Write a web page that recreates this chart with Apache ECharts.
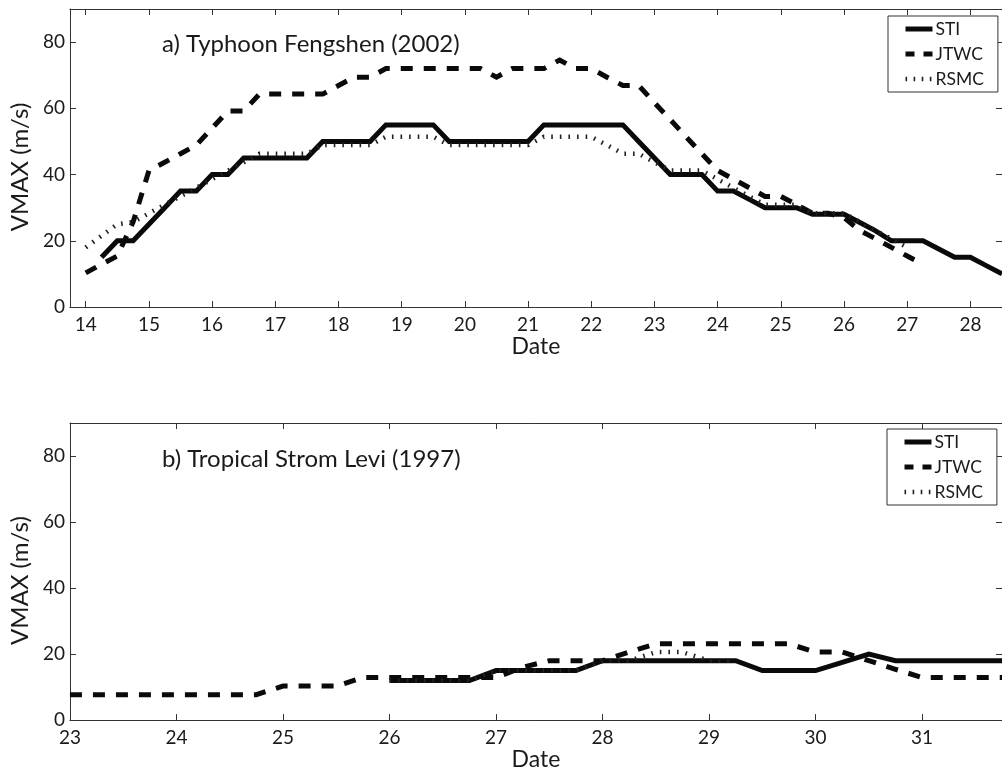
<!DOCTYPE html>
<html>
<head>
<meta charset="utf-8">
<script src="https://cdn.jsdelivr.net/npm/echarts@6/dist/echarts.min.js"></script>
<style>
html,body{margin:0;padding:0;background:#fff;}
#chart{width:1002px;height:772px;}
</style>
</head>
<body>
<div id="chart"></div>
<script>
// ---------- Panel a) Typhoon Fengshen (2002) ----------
const titleA = 'a) Typhoon Fengshen (2002)';
const xTicksA = [14,15,16,17,18,19,20,21,22,23,24,25,26,27,28];
const stiA_t = [14.25,14.5,14.75,15,15.25,15.5,15.75,16,16.25,16.5,16.75,17,17.25,17.5,17.75,18,18.25,18.5,18.75,19,19.25,19.5,19.75,20,20.25,20.5,20.75,21,21.25,21.5,21.75,22,22.25,22.5,22.75,23,23.25,23.5,23.75,24,24.25,24.5,24.75,25,25.25,25.5,25.75,26,26.25,26.5,26.75,27,27.25,27.5,27.75,28,28.25,28.5];
const stiA_v = [15,20,20,25,30,35,35,40,40,45,45,45,45,45,50,50,50,50,55,55,55,55,50,50,50,50,50,50,55,55,55,55,55,55,50,45,40,40,40,35,35,32.5,30,30,30,28,28,28,25.5,23,20,20,20,17.5,15,15,12.5,10];
const jtwcA_t = [14,14.25,14.5,14.75,15,15.25,15.5,15.75,16,16.25,16.5,16.75,17,17.25,17.5,17.75,18,18.25,18.5,18.75,19,19.25,19.5,19.75,20,20.25,20.5,20.75,21,21.25,21.5,21.75,22,22.25,22.5,22.75,23,23.25,23.5,23.75,24,24.25,24.5,24.75,25,25.25,25.5,25.75,26,26.25,26.5,26.75,27,27.25];
const jtwcA_v = [10.3,12.9,15.4,25.7,41.2,43.7,46.3,48.9,54,59.2,59.2,64.3,64.3,64.3,64.3,64.3,66.9,69.4,69.4,72,72,72,72,72,72,72,69.4,72,72,72,74.6,72,72,69.4,66.9,66.9,61.7,56.6,51.4,46.3,41.2,38.6,36,33.4,33.4,30.9,28.3,28.3,27,23.1,20.6,18,15.4,12.9];
const rsmcA_t = [14,14.25,14.5,14.75,15,15.25,15.5,15.75,16,16.25,16.5,16.75,17,17.25,17.5,17.75,18,18.25,18.5,18.75,19,19.25,19.5,19.75,20,20.25,20.5,20.75,21,21.25,21.5,21.75,22,22.25,22.5,22.75,23,23.25,23.5,23.75,24,24.25,24.5,24.75,25,25.25,25.5,25.75,26,26.25,26.5,26.75,27];
const rsmcA_v = [18,21.5,25,25.7,28.3,30.9,33.4,36,38.6,41.2,43.7,46.3,46.3,46.3,46.3,48.9,48.9,48.9,48.9,51.4,51.4,51.4,51.4,48.9,48.9,48.9,48.9,48.9,48.9,51.4,51.4,51.4,51.4,48.9,46.3,46.3,43.7,41.2,41.2,41.2,38.6,36,33.4,30.9,30.9,30.9,28.3,28.3,28.3,25.7,23.1,20.6,18];

// ---------- Panel b) Tropical Strom Levi (1997) ----------
const titleB = 'b) Tropical Strom Levi (1997)';
const xTicksB = [23,24,25,26,27,28,29,30,31];
const stiB_t = [26,26.25,26.5,26.75,27,27.25,27.5,27.75,28,28.25,28.5,28.75,29,29.25,29.5,29.75,30,30.25,30.5,30.75,31,31.25,31.5,31.75];
const stiB_v = [12,12,12,12,15,15,15,15,18,18,18,18,18,18,15,15,15,17.5,20,18,18,18,18,18];
const jtwcB_t = [23,23.25,23.5,23.75,24,24.25,24.5,24.75,25,25.25,25.5,25.75,26,26.25,26.5,26.75,27,27.25,27.5,27.75,28,28.25,28.5,28.75,29,29.25,29.5,29.75,30,30.25,30.5,30.75,31,31.25,31.5,31.75];
const jtwcB_v = [7.7,7.7,7.7,7.7,7.7,7.7,7.7,7.7,10.3,10.3,10.3,12.9,12.9,12.9,12.9,12.9,12.9,16,18,18,18,20.6,23.1,23.1,23.1,23.1,23.1,23.1,20.6,20.6,18,15.4,12.9,12.9,12.9,12.9];
const rsmcB_t = [26,26.25,26.5,26.75,27,27.25,27.5,27.75,28,28.25,28.5,28.75,29,29.25];
const rsmcB_v = [12,12,12,12,15,15,15,15,18,18,20.6,20.6,18,18];

const yTicks = [0,20,40,60,80];
const seriesNames = ['STI','JTWC','RSMC'];
const xLabel = 'Date';
const yLabel = 'VMAX (m/s)';

const FONT = 'Lato, "Open Sans", sans-serif';
const INK = '#1a1a1a';
const AX = '#333';

function pairs(t, v){ return t.map((x,i)=>[x, v[i]]); }

function xAxes(grid, min, max, ticks, gap){
  return [{
    gridIndex: grid, type:'value', min:min, max:max, position:'bottom',
    axisLine:{show:true, onZero:false, lineStyle:{color:AX, width:1}},
    axisTick:{show:true, inside:true, length:6, customValues:ticks, lineStyle:{color:AX}},
    axisLabel:{show:true, customValues:ticks, fontSize:19, fontFamily:FONT, color:INK, margin:8},
    splitLine:{show:false},
    name: xLabel, nameLocation:'middle', nameGap:gap,
    nameTextStyle:{fontSize:23, fontFamily:FONT, color:INK}
  },{
    gridIndex: grid, type:'value', min:min, max:max, position:'top',
    axisLine:{show:true, onZero:false, lineStyle:{color:AX, width:1}},
    axisTick:{show:true, inside:true, length:6, customValues:ticks, lineStyle:{color:AX}},
    axisLabel:{show:false}, splitLine:{show:false}
  }];
}
function yAxes(grid){
  return [{
    gridIndex: grid, type:'value', min:0, max:90, position:'left',
    axisLine:{show:true, onZero:false, lineStyle:{color:AX, width:1}},
    axisTick:{show:true, inside:true, length:6, customValues:yTicks, lineStyle:{color:AX}},
    axisLabel:{show:true, customValues:yTicks, fontSize:19, fontFamily:FONT, color:INK, margin:5},
    splitLine:{show:false},
    name: yLabel, nameLocation:'middle', nameGap:31,
    nameTextStyle:{fontSize:24, fontFamily:FONT, color:INK, padding:[0,18,0,0]}
  },{
    gridIndex: grid, type:'value', min:0, max:90, position:'right',
    axisLine:{show:true, onZero:false, lineStyle:{color:AX, width:1}},
    axisTick:{show:true, inside:true, length:6, customValues:yTicks, lineStyle:{color:AX}},
    axisLabel:{show:false}, splitLine:{show:false}
  }];
}

const STI_STYLE = {color:'#0a0a0a', width:5, type:'solid', cap:'butt', join:'miter'};
const JTWC_STYLE = {color:'#0a0a0a', width:5, type:[12,11], cap:'butt', join:'miter'};
const RSMC_STYLE = {color:'#222', width:4.5, type:[1.6,7], cap:'butt', join:'miter'};

function mkSeries(name, data, xi, yi, style){
  return {
    name:name, type:'line', data:data, xAxisIndex:xi, yAxisIndex:yi,
    symbol:'none', showSymbol:false, smooth:false, animation:false,
    lineStyle:style, itemStyle:{color:style.color}, emphasis:{disabled:true}
  };
}

function legendAt(left, top){
  return {
    data: [
      {name:seriesNames[0], lineStyle:{width:5, type:'solid'}},
      {name:seriesNames[1], lineStyle:{width:5, type:[9,9]}},
      {name:seriesNames[2], lineStyle:{width:4.5, type:[1.6,6.5]}}
    ],
    orient:'vertical', left:left, top:top,
    itemWidth:27, itemHeight:14, itemGap:7,
    padding:[4,14,4,15],
    borderColor:'#333', borderWidth:1, backgroundColor:'#fff',
    itemStyle:{opacity:0, borderWidth:0},
    lineStyle:{width:5},
    textStyle:{fontSize:17.5, fontFamily:FONT, color:INK, padding:[0,0,0,-2]},
    selectedMode:false
  };
}

const chart = echarts.init(document.getElementById('chart'), null, {renderer:'canvas'});
chart.setOption({
  backgroundColor:'#fff',
  animation:false,
  grid:[
    {left:68, top:9, width:937, height:298, containLabel:false},
    {left:68, top:423, width:937, height:299, containLabel:false}
  ],
  xAxis:[].concat(xAxes(0, 13.75, 28.5, xTicksA, 27), xAxes(1, 23, 31.75, xTicksB, 25)),
  yAxis:[].concat(yAxes(0), yAxes(1)),
  legend:[legendAt(888, 16), legendAt(887, 429)],
  graphic:[
    {type:'text', x:162, y:44, style:{text:titleA, fontSize:24, fontFamily:FONT, fill:INK, verticalAlign:'middle'}},
    {type:'text', x:162, y:459, style:{text:titleB, fontSize:24, fontFamily:FONT, fill:INK, verticalAlign:'middle'}}
  ],
  series:[
    mkSeries('STI', pairs(stiA_t, stiA_v), 0, 0, STI_STYLE),
    mkSeries('JTWC', pairs(jtwcA_t, jtwcA_v), 0, 0, JTWC_STYLE),
    mkSeries('RSMC', pairs(rsmcA_t, rsmcA_v), 0, 0, RSMC_STYLE),
    mkSeries('STI', pairs(stiB_t, stiB_v), 2, 2, STI_STYLE),
    mkSeries('JTWC', pairs(jtwcB_t, jtwcB_v), 2, 2, JTWC_STYLE),
    mkSeries('RSMC', pairs(rsmcB_t, rsmcB_v), 2, 2, RSMC_STYLE)
  ]
});
</script>
</body>
</html>
